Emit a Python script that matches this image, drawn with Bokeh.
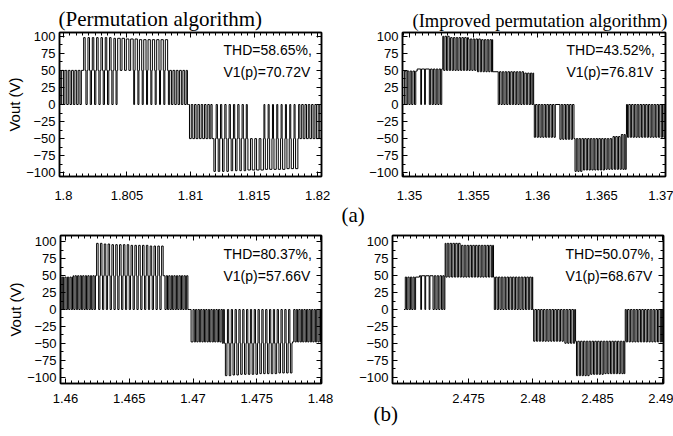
import math
from bokeh.plotting import figure
from bokeh.layouts import column, row
from bokeh.models import (ColumnDataSource, Label, LinearAxis, FixedTicker,
                          CustomJSTickFormatter, Range1d, Title)
from bokeh.embed import file_html
from bokeh.resources import INLINE

# ---------------- texts ----------------
title_left = "(Permutation algorithm)"
title_right = "(Improved permutation algorithm)"
y_title = "Vout (V)"
a1_thd, a1_v1 = "THD=58.65%,", "V1(p)=70.72V"
a2_thd, a2_v1 = "THD=43.52%,", "V1(p)=76.81V"
b1_thd, b1_v1 = "THD=80.37%,", "V1(p)=57.66V"
b2_thd, b2_v1 = "THD=50.07%,", "V1(p)=68.67V"
row_a_label = "(a)"
row_b_label = "(b)"

# ---------------- ticks ----------------
y_ticks = [-100, -75, -50, -25, 0, 25, 50, 75, 100]
a1_xticks = [1.8, 1.805, 1.81, 1.815, 1.82]
a2_xticks = [1.35, 1.355, 1.36, 1.365, 1.37]
b1_xticks = [1.46, 1.465, 1.47, 1.475, 1.48]
b2_xticks = [2.475, 2.48, 2.485, 2.49]

# ---------------- waveforms ----------------
# time origin of each record (s); all times below in ms after the origin
a1_t0 = 1.80
a2_t0 = 1.35
b1_t0 = 1.46
b2_t0 = 2.47

# (start ms, end ms, level V): sector levels, then switching pulses
a1_base = [(-0.32, 9.85, 50), (9.85, 20.32, -50)]
a1_pulses = [
    (-0.26, -0.14, 0), (0.00, 0.12, 0), (0.26, 0.38, 0), (0.52, 0.64, 0), (0.78, 0.90, 0),
    (1.04, 1.16, 0), (1.30, 1.41, 0),
    (1.59, 1.71, 98), (1.93, 2.05, 98), (2.27, 2.39, 98), (2.61, 2.73, 98), (2.95, 3.07, 98),
    (3.29, 3.41, 98), (3.63, 3.75, 98), (3.97, 4.09, 97), (4.27, 4.47, 97), (4.61, 4.81, 97),
    (4.95, 5.15, 96), (5.29, 5.49, 96), (5.64, 5.82, 96), (5.98, 6.16, 95), (6.32, 6.50, 95),
    (6.66, 6.84, 95), (7.00, 7.18, 95), (7.34, 7.52, 95), (7.68, 7.86, 95), (8.02, 8.20, 95),
    (1.77, 1.87, 0), (2.11, 2.21, 0), (2.45, 2.55, 0), (2.79, 2.89, 0), (3.13, 3.23, 0),
    (3.47, 3.57, 0), (3.81, 3.91, 0), (4.14, 4.22, 0),
    (5.53, 5.60, 0), (5.86, 5.94, 0), (6.20, 6.28, 0), (6.54, 6.62, 0), (6.88, 6.96, 0),
    (7.22, 7.30, 0), (7.56, 7.64, 0), (7.90, 7.98, 0), (8.26, 8.36, 0),
    (8.50, 8.62, 0), (8.76, 8.88, 0), (9.02, 9.14, 0), (9.28, 9.40, 0), (9.54, 9.66, 0),
    (9.76, 9.92, 0),
    (10.06, 10.18, 0), (10.32, 10.44, 0), (10.58, 10.70, 0), (10.84, 10.96, 0), (11.10, 11.22, 0),
    (11.36, 11.48, 0), (11.60, 11.70, 0),
    (11.84, 11.96, -98), (12.18, 12.30, -98), (12.52, 12.64, -98), (12.86, 12.98, -98),
    (13.20, 13.32, -97), (13.54, 13.66, -97), (13.88, 14.00, -97), (14.22, 14.34, -97),
    (14.52, 14.72, -96), (14.86, 15.06, -96), (15.20, 15.40, -96), (15.54, 15.74, -96),
    (15.89, 16.07, -95), (16.23, 16.41, -95), (16.57, 16.75, -95), (16.91, 17.09, -95),
    (17.25, 17.43, -95), (17.59, 17.77, -94), (17.93, 18.11, -94), (18.27, 18.45, -94),
    (12.02, 12.12, 0), (12.36, 12.46, 0), (12.70, 12.80, 0), (13.04, 13.14, 0), (13.38, 13.48, 0),
    (13.72, 13.82, 0), (14.06, 14.16, 0), (14.39, 14.47, 0),
    (15.78, 15.85, 0), (16.11, 16.19, 0), (16.45, 16.53, 0), (16.79, 16.87, 0), (17.13, 17.21, 0),
    (17.47, 17.55, 0), (17.81, 17.89, 0), (18.15, 18.23, 0), (18.51, 18.61, 0),
    (18.75, 18.87, 0), (19.01, 19.13, 0), (19.27, 19.39, 0), (19.53, 19.65, 0), (19.79, 19.91, 0),
    (20.05, 20.17, 0),
]

a2_base = [(-0.47, 0.60, 49), (0.60, 2.60, 52), (2.60, 3.10, 100), (3.10, 4.60, 98),
           (4.60, 5.60, 96), (5.60, 6.50, 95), (6.50, 9.00, 48), (9.00, 9.70, 46),
           (9.70, 12.85, 0), (12.85, 15.90, -50), (15.90, 16.50, -47), (16.50, 16.95, -44),
           (16.95, 20.00, 0)]
a2_pulses = [
    (-0.47, -0.38, 0), (-0.27, -0.17, 0), (-0.05, 0.05, 0), (0.17, 0.27, 0), (0.39, 0.49, 0),
    (0.88, 0.94, 0), (1.18, 1.24, 0), (1.55, 1.65, 0), (1.77, 1.87, 0), (1.99, 2.09, 0),
    (2.21, 2.31, 0), (2.43, 2.52, 0),
    (2.67, 2.77, 50), (2.89, 2.99, 50), (3.11, 3.21, 50), (3.33, 3.43, 50), (3.55, 3.65, 50),
    (3.77, 3.87, 50), (3.99, 4.09, 50), (4.21, 4.31, 50), (4.43, 4.53, 50), (4.65, 4.75, 50),
    (4.87, 4.97, 50), (5.09, 5.19, 50), (5.31, 5.41, 48), (5.53, 5.63, 48), (5.75, 5.85, 48),
    (5.97, 6.07, 48), (6.19, 6.29, 48), (6.40, 6.47, 48),
    (6.93, 7.03, 0), (7.15, 7.25, 0), (7.37, 7.47, 0), (7.59, 7.69, 0), (7.81, 7.91, 0),
    (8.03, 8.13, 0), (8.25, 8.35, 0), (8.47, 8.57, 0), (8.69, 8.79, 0), (8.91, 9.01, 0),
    (9.13, 9.23, 0), (9.35, 9.45, 0), (9.56, 9.64, 0),
    (9.75, 9.85, -48), (9.97, 10.07, -48), (10.19, 10.29, -48), (10.41, 10.51, -48),
    (10.63, 10.73, -48), (10.85, 10.95, -48), (11.07, 11.17, -48), (11.29, 11.39, -48),
    (11.75, 11.85, -51), (11.97, 12.07, -51), (12.19, 12.29, -51), (12.41, 12.51, -51),
    (12.63, 12.73, -51),
    (12.93, 13.03, -98), (13.15, 13.25, -98), (13.37, 13.47, -98), (13.59, 13.69, -96),
    (13.81, 13.91, -96), (14.03, 14.13, -96), (14.25, 14.35, -96), (14.47, 14.57, -96),
    (14.69, 14.79, -96), (14.91, 15.01, -96), (15.13, 15.23, -96), (15.35, 15.45, -95),
    (15.57, 15.67, -95), (15.79, 15.89, -95), (16.01, 16.11, -95), (16.23, 16.33, -95),
    (16.45, 16.55, -95), (16.67, 16.77, -95), (16.85, 16.93, -95),
    (17.03, 17.13, -48), (17.25, 17.35, -48), (17.47, 17.57, -48), (17.69, 17.79, -48),
    (17.91, 18.01, -48), (18.13, 18.23, -48), (18.35, 18.45, -48), (18.57, 18.67, -48),
    (18.79, 18.89, -48), (19.01, 19.11, -48), (19.23, 19.33, -48), (19.45, 19.55, -48),
    (19.67, 19.77, -48), (19.88, 19.96, -48),
]

b1_base = [(-0.40, 0.60, 48), (0.60, 9.75, 50), (9.75, 12.20, -48), (12.20, 17.80, -50),
           (17.80, 20.10, -48)]
b1_pulses = [
    (-0.35, -0.25, 0), (-0.15, -0.05, 0), (0.05, 0.15, 0), (0.25, 0.35, 0), (0.45, 0.55, 0),
    (0.65, 0.75, 0), (0.85, 0.95, 0), (1.05, 1.15, 0), (1.25, 1.35, 0), (1.45, 1.55, 0),
    (1.65, 1.75, 0), (1.85, 1.95, 0), (2.05, 2.15, 0), (2.25, 2.35, 0),
    (2.44, 2.56, 98), (2.74, 2.86, 98), (3.04, 3.16, 97), (3.34, 3.46, 97), (3.64, 3.76, 96),
    (3.94, 4.06, 96), (4.24, 4.36, 96), (4.54, 4.66, 96), (4.84, 4.96, 96), (5.14, 5.26, 95),
    (5.44, 5.56, 95), (5.74, 5.86, 95), (6.04, 6.16, 95), (6.34, 6.46, 95), (6.64, 6.76, 94),
    (6.94, 7.06, 94), (7.24, 7.36, 94), (7.54, 7.66, 94),
    (2.60, 2.70, 0), (2.90, 3.00, 0), (3.20, 3.30, 0), (3.50, 3.60, 0), (3.80, 3.90, 0),
    (4.10, 4.20, 0), (4.40, 4.50, 0), (4.70, 4.80, 0), (5.00, 5.10, 0), (5.30, 5.40, 0),
    (5.60, 5.70, 0), (5.90, 6.00, 0), (6.20, 6.30, 0), (6.50, 6.60, 0), (6.80, 6.90, 0),
    (7.10, 7.20, 0), (7.40, 7.50, 0),
    (7.80, 7.90, 0), (8.00, 8.10, 0), (8.20, 8.30, 0), (8.40, 8.50, 0), (8.60, 8.70, 0),
    (8.80, 8.90, 0), (9.00, 9.10, 0), (9.20, 9.30, 0), (9.40, 9.50, 0), (9.60, 9.85, 0),
    (10.00, 10.10, 0), (10.20, 10.30, 0), (10.40, 10.50, 0), (10.60, 10.70, 0),
    (10.80, 10.90, 0), (11.00, 11.10, 0), (11.20, 11.30, 0), (11.40, 11.50, 0),
    (11.60, 11.70, 0), (11.80, 11.90, 0), (12.00, 12.10, 0), (12.20, 12.30, 0), (12.38, 12.46, 0),
    (12.54, 12.66, -98), (12.84, 12.96, -98), (13.14, 13.26, -97), (13.44, 13.56, -97),
    (13.74, 13.86, -96), (14.04, 14.16, -96), (14.34, 14.46, -96), (14.64, 14.76, -96),
    (14.94, 15.06, -96), (15.24, 15.36, -95), (15.54, 15.66, -95), (15.84, 15.96, -95),
    (16.14, 16.26, -95), (16.44, 16.56, -95), (16.74, 16.86, -94), (17.04, 17.16, -94),
    (17.34, 17.46, -94), (17.64, 17.76, -94),
    (12.70, 12.80, 0), (13.00, 13.10, 0), (13.30, 13.40, 0), (13.60, 13.70, 0), (13.90, 14.00, 0),
    (14.20, 14.30, 0), (14.50, 14.60, 0), (14.80, 14.90, 0), (15.10, 15.20, 0), (15.40, 15.50, 0),
    (15.70, 15.80, 0), (16.00, 16.10, 0), (16.30, 16.40, 0), (16.60, 16.70, 0), (16.90, 17.00, 0),
    (17.20, 17.30, 0), (17.50, 17.60, 0),
    (17.90, 18.00, 0), (18.10, 18.20, 0), (18.30, 18.40, 0), (18.50, 18.60, 0), (18.70, 18.80, 0),
    (18.90, 19.00, 0), (19.10, 19.20, 0), (19.30, 19.40, 0), (19.50, 19.60, 0), (19.70, 19.80, 0),
    (19.90, 20.00, 0),
]

b2_base = [(0.00, 1.20, 48), (1.20, 3.19, 50), (3.19, 4.40, 98), (4.40, 6.94, 95),
           (6.94, 9.98, 48), (9.98, 13.30, 0), (13.30, 17.15, -47), (17.15, 20.12, 0)]
b2_pulses = [
    (0.00, 0.10, 0), (0.20, 0.30, 0), (0.40, 0.50, 0), (0.60, 0.70, 0), (0.80, 0.90, 0),
    (1.30, 1.36, 0), (1.62, 1.68, 0), (1.95, 2.01, 0), (2.25, 2.35, 0), (2.47, 2.57, 0),
    (2.69, 2.79, 0), (2.91, 3.01, 0), (3.10, 3.17, 0),
    (3.25, 3.35, 48), (3.47, 3.57, 48), (3.69, 3.79, 48), (3.91, 4.01, 48), (4.13, 4.23, 48),
    (4.35, 4.45, 48), (4.57, 4.67, 48), (4.79, 4.89, 48), (5.01, 5.11, 48), (5.23, 5.33, 48),
    (5.45, 5.55, 48), (5.67, 5.77, 48), (5.89, 5.99, 48), (6.11, 6.21, 48), (6.33, 6.43, 48),
    (6.55, 6.65, 48), (6.77, 6.87, 48),
    (7.00, 7.10, 0), (7.22, 7.32, 0), (7.44, 7.54, 0), (7.66, 7.76, 0), (7.88, 7.98, 0),
    (8.10, 8.20, 0), (8.32, 8.42, 0), (8.54, 8.64, 0), (8.76, 8.86, 0), (8.98, 9.08, 0),
    (9.20, 9.30, 0), (9.42, 9.52, 0), (9.64, 9.74, 0), (9.86, 9.94, 0),
    (10.05, 10.15, -47), (10.27, 10.37, -47), (10.49, 10.59, -47), (10.71, 10.81, -47),
    (10.93, 11.03, -47), (11.15, 11.25, -47), (11.37, 11.47, -47), (11.59, 11.69, -47),
    (11.81, 11.91, -47), (12.03, 12.13, -47), (12.25, 12.35, -47), (12.47, 12.57, -50),
    (12.69, 12.79, -50), (12.91, 13.01, -50), (13.13, 13.23, -50),
    (13.37, 13.47, -98), (13.59, 13.69, -98), (13.81, 13.91, -98), (14.03, 14.13, -98),
    (14.25, 14.35, -98), (14.47, 14.57, -96), (14.69, 14.79, -96), (14.91, 15.01, -96),
    (15.13, 15.23, -96), (15.35, 15.45, -96), (15.57, 15.67, -95), (15.79, 15.89, -95),
    (16.01, 16.11, -95), (16.23, 16.33, -95), (16.45, 16.55, -95), (16.67, 16.77, -95),
    (16.89, 16.99, -95), (17.06, 17.12, -95),
    (17.23, 17.33, -48), (17.45, 17.55, -48), (17.67, 17.77, -48), (17.89, 17.99, -48),
    (18.11, 18.21, -48), (18.33, 18.43, -48), (18.55, 18.65, -48), (18.77, 18.87, -48),
    (18.99, 19.09, -48), (19.21, 19.31, -48), (19.43, 19.53, -48), (19.65, 19.75, -48),
    (19.87, 19.97, -48), (20.05, 20.12, -48),
]


def build(t0, base, pulses):
    edges = sorted({v for s, e, _ in base for v in (s, e)} |
                   {v for s, e, _ in pulses for v in (s, e)})
    xs, ys = [], []
    for a, b in zip(edges[:-1], edges[1:]):
        m = 0.5 * (a + b)
        lvl = next((v for s, e, v in pulses if s <= m < e), None)
        if lvl is None:
            lvl = next((v for s, e, v in base if s <= m < e), float("nan"))
        xs.append(t0 + a / 1000.0)
        ys.append(lvl)
    xs.append(t0 + edges[-1] / 1000.0)
    ys.append(ys[-1])
    return xs, ys


def minor_list(lo, hi, step):
    k0 = math.ceil(lo / step - 1e-9)
    k1 = math.floor(hi / step + 1e-9)
    return [round(k * step, 6) for k in range(k0, k1 + 1)]


XFMT = "var s = tick.toFixed(3); s = s.replace(/0+$/, ''); return s.replace(/\\.$/, '');"
SERIF = "Liberation Serif"
SANS = "Liberation Sans"


def style_axis(ax, labels, standoff=4):
    ax.axis_line_color = "black"
    ax.axis_line_width = 1.5
    ax.major_tick_line_color = "black"
    ax.minor_tick_line_color = "black"
    ax.major_tick_in = 5
    ax.major_tick_out = 0
    ax.minor_tick_in = 3
    ax.minor_tick_out = 0
    if labels:
        ax.major_label_text_font = SANS
        ax.major_label_text_font_size = "13px"
        ax.major_label_text_color = "black"
        ax.major_label_standoff = standoff
    else:
        ax.major_label_text_color = None
        ax.major_label_text_font_size = "0px"
        ax.major_label_standoff = 0


class Panel:
    def __init__(self, origin, w, h, L, R, T, B, xr, yr, t0, base, pulses, xticks,
                 ylab, xstand):
        self.origin = origin
        self.L, self.R, self.T, self.B = L, R, T, B
        self.xr, self.yr = xr, yr
        p = figure(width=w, height=h, x_range=Range1d(*xr), y_range=Range1d(*yr),
                   output_backend="svg", toolbar_location=None, title=None,
                   min_border_left=L, min_border_right=w - R,
                   min_border_top=T, min_border_bottom=h - B)
        p.background_fill_color = "white"
        p.border_fill_color = "white"
        p.outline_line_color = "black"
        p.outline_line_width = 1.5
        p.xgrid.visible = False
        p.ygrid.visible = False
        xt = FixedTicker(ticks=xticks, minor_ticks=minor_list(xr[0], xr[1], 0.0005))
        yt = FixedTicker(ticks=y_ticks, minor_ticks=minor_list(yr[0], yr[1], 12.5))
        xa = p.below[0]
        ya = p.left[0]
        xa.ticker = xt
        xa.formatter = CustomJSTickFormatter(code=XFMT)
        ya.ticker = yt
        style_axis(xa, True, xstand)
        style_axis(ya, True, 4)
        if ylab:
            ya.axis_label = ylab
            ya.axis_label_text_font = SANS
            ya.axis_label_text_font_size = "15px"
            ya.axis_label_text_font_style = "normal"
            ya.axis_label_text_color = "black"
            ya.axis_label_standoff = 0
        top = LinearAxis(ticker=xt)
        right = LinearAxis(ticker=yt)
        style_axis(top, False)
        style_axis(right, False)
        p.add_layout(top, "above")
        p.add_layout(right, "right")
        xs, ys = build(t0, base, pulses)
        src = ColumnDataSource(data=dict(t=xs, v=ys))
        p.step(x="t", y="v", source=src, mode="after", line_color="black", line_width=1)
        self.p = p

    def text(self, px, py, txt, size="14px"):
        cx = px - self.origin[0]
        cy = py - self.origin[1]
        x = self.xr[0] + (cx - self.L) / (self.R - self.L) * (self.xr[1] - self.xr[0])
        y = self.yr[1] - (cy - self.T) / (self.B - self.T) * (self.yr[1] - self.yr[0])
        self.p.add_layout(Label(x=x, y=y, text=txt, text_font=SANS, text_font_size=size,
                                text_align="left", text_baseline="middle",
                                text_color="black"))

    def side_title(self, txt, side, page_left, size, standoff, valign):
        off = page_left - (self.origin[0] + self.L)
        self.p.add_layout(Title(text=txt, align="left", offset=off, standoff=standoff,
                                vertical_align=valign, text_font=SERIF,
                                text_font_size=size, text_font_style="normal",
                                text_color="black"), side)


pa1 = Panel((0, 0), 335, 232, 59, 321, 32, 176, (1.79969, 1.82031), (-105.5, 105.5),
            a1_t0, a1_base, a1_pulses, a1_xticks, y_title, 14)
pa2 = Panel((335, 0), 338, 232, 67, 330, 32, 176, (1.349453, 1.37), (-105.5, 105.5),
            a2_t0, a2_base, a2_pulses, a2_xticks, None, 14)
pb1 = Panel((0, 232), 335, 204, 60, 321, 3, 151, (1.459608, 1.480078), (-109.6, 109.6),
            b1_t0, b1_base, b1_pulses, b1_xticks, y_title, 10)
pb2 = Panel((335, 232), 338, 204, 57, 328, 3, 151, (2.469109, 2.490116), (-109.6, 109.6),
            b2_t0, b2_base, b2_pulses, b2_xticks, None, 10)

pa1.side_title(title_left, "above", 58, "21px", 4, "bottom")
pa2.side_title(title_right, "above", 412, "18.5px", 4, "bottom")
pa2.side_title(row_a_label, "below", 341, "21px", 0, "top")
pb2.side_title(row_b_label, "below", 373, "21px", -7, "top")

pa1.text(223, 49, a1_thd)
pa1.text(223, 71, a1_v1)
pa2.text(566, 49, a2_thd)
pa2.text(566, 71, a2_v1)
pb1.text(223, 253, b1_thd)
pb1.text(223, 275, b1_v1)
pb2.text(565, 253, b2_thd)
pb2.text(565, 275, b2_v1)

layout = column(row(pa1.p, pa2.p), row(pb1.p, pb2.p))
open("out.html", "w").write(file_html(layout, INLINE))
